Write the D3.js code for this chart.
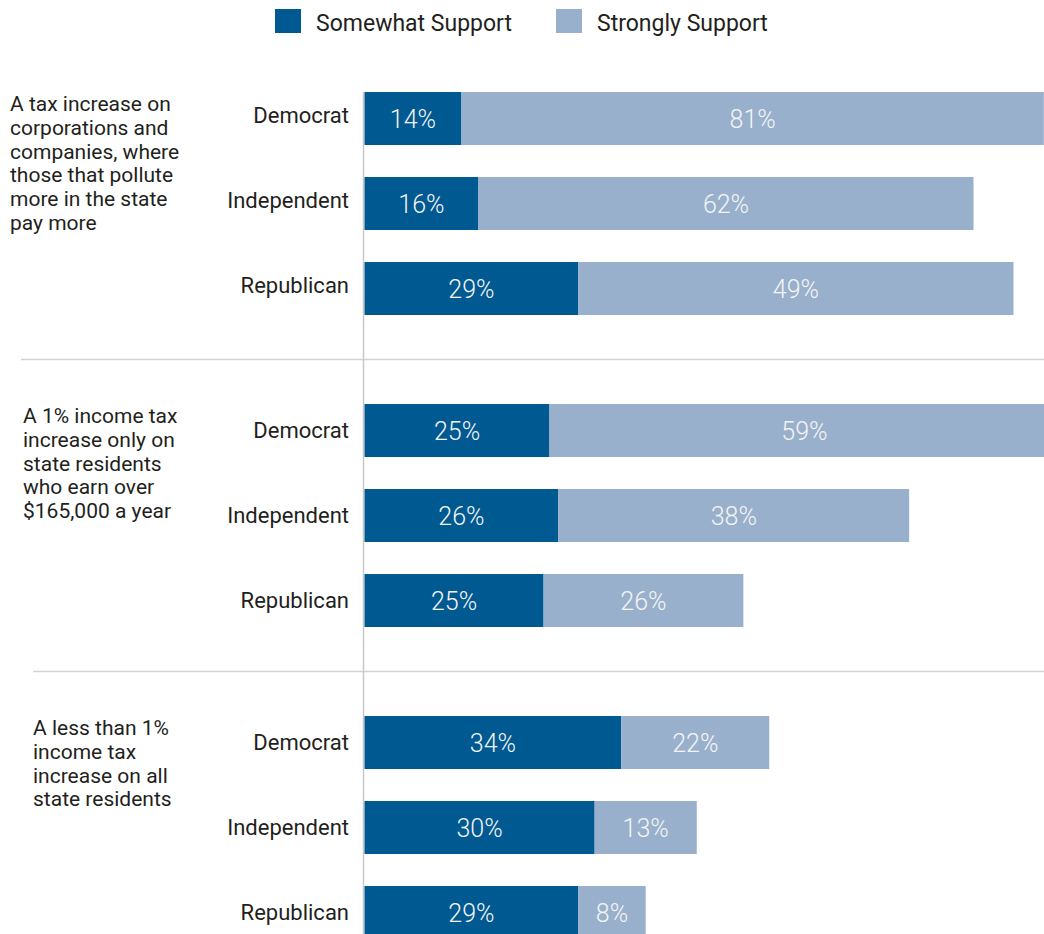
<!DOCTYPE html>
<html lang="en">
<head>
<meta charset="utf-8">
<title>tax support by party</title>
<script src="https://cdn.jsdelivr.net/npm/d3@7"></script>
<style>
  body{margin:0;background:#fff;font-family:Roboto, "Noto Sans", sans-serif;}
  svg text{fill:#231f20;}
  .val{fill:#f4f4f4;font-weight:300;}
</style>
</head>
<body>
<div id="chart"></div>
<script>
// data
var groups = ["corp", "rich", "all"]
var groupText = [
  ["A tax increase on","corporations and","companies, where","those that pollute","more in the state","pay more"],
  ["A 1% income tax","increase only on","state residents","who earn over","$165,000 a year"],
  ["A less than 1%","income tax","increase on all","state residents"]
]
var parties = ["Democrat", "Independent", "Republican"]
var series = ["Somewhat Support", "Strongly Support"]

// bar lengths as drawn in the source (they don't always agree with the printed labels)
var somewhat = [13.1, 15.4, 28.9,  25.0, 26.2, 24.2,  34.7, 31.1, 28.9]
var strongly = [78.7, 66.9, 58.8,  68.9, 47.4, 27.0,  20.0, 13.8, 9.1]
// printed labels
var somewhatLabel = ["14%","16%","29%", "25%","26%","25%", "34%","30%","29%"]
var stronglyLabel = ["81%","62%","49%", "59%","38%","26%", "22%","13%","8%"]

var colors = ["#005991", "#98b0cc"]

var w = 1044, h = 934
var textX = [10, 23, 33]   // left column text indent per group
var sepX = [21, 33]        // separator start per gap

var svg = d3.select("#chart").append("svg")
  .attr("width", w).attr("height", h)

var x = d3.scaleLinear().domain([0, 100]).range([364.5, 1104.5])
var yGroup = d3.scaleBand().domain(groups).range([92, 92 + 312 * 3])
var yParty = d3.scaleBand().domain(parties).range([0, 223]).paddingInner(32 / 85)

var rows = []
groups.forEach(function(g, gi){
  parties.forEach(function(p, pi){
    var i = gi * 3 + pi
    rows.push({group: g, gi: gi, party: p, s: somewhat[i], t: strongly[i], sl: somewhatLabel[i], tl: stronglyLabel[i]})
  })
})

// legend
var leg = svg.append("g")
var legX = [275, 556]
series.forEach(function(s, i){
  leg.append("rect").attr("x", legX[i]).attr("y", 9).attr("width", 26).attr("height", 24).attr("fill", colors[i])
  leg.append("text").attr("x", legX[i] + 41).attr("y", 31).style("font-size", "23px").text(s)
})

// separators between groups
groups.slice(1).forEach(function(g, i){
  var yy = yGroup(g) - 44.5
  svg.append("line").attr("x1", sepX[i]).attr("x2", w).attr("y1", yy).attr("y2", yy)
    .attr("stroke", "#d2d2d2").attr("stroke-width", 1.5)
})

// vertical baseline
svg.append("line").attr("x1", x(0) - 1).attr("x2", x(0) - 1).attr("y1", yGroup(groups[0])).attr("y2", h)
  .attr("stroke", "#c8c8c8").attr("stroke-width", 1.5)

// left question text
groups.forEach(function(g, gi){
  var t = svg.append("text").attr("x", textX[gi]).attr("y", yGroup(g) + 19).style("font-size", "21px")
  groupText[gi].forEach(function(line, li){
    t.append("tspan").attr("x", textX[gi]).attr("dy", li == 0 ? 0 : 23.8).text(line)
  })
})

var bars = svg.selectAll("g.row").data(rows).enter().append("g").attr("class", "row")
  .attr("transform", function(d){ return "translate(0," + (yGroup(d.group) + yParty(d.party)) + ")" })

var bw = yParty.bandwidth()

bars.append("text")
  .attr("x", 349).attr("y", function(d){ return bw / 2 - (d.gi == 0 ? 3 : 0) }).attr("dy", "0.35em")
  .attr("text-anchor", "end").style("font-size", "22px")
  .text(function(d){ return d.party })

bars.append("rect")
  .attr("x", x(0)).attr("y", 0).attr("height", bw)
  .attr("width", function(d){ return x(d.s) - x(0) })
  .attr("fill", colors[0])

bars.append("rect")
  .attr("x", function(d){ return x(d.s) }).attr("y", 0).attr("height", bw)
  .attr("width", function(d){ return x(d.s + d.t) - x(d.s) })
  .attr("fill", colors[1])

bars.append("text").attr("class", "val")
  .attr("x", function(d){ return (x(0) + x(d.s)) / 2 }).attr("y", bw / 2 + 9)
  .attr("text-anchor", "middle").style("font-size", "25px")
  .text(function(d){ return d.sl })

bars.append("text").attr("class", "val")
  .attr("x", function(d){ return (x(d.s) + x(d.s + d.t)) / 2 }).attr("y", bw / 2 + 9)
  .attr("text-anchor", "middle").style("font-size", "25px")
  .text(function(d){ return d.tl })
</script>
</body>
</html>
